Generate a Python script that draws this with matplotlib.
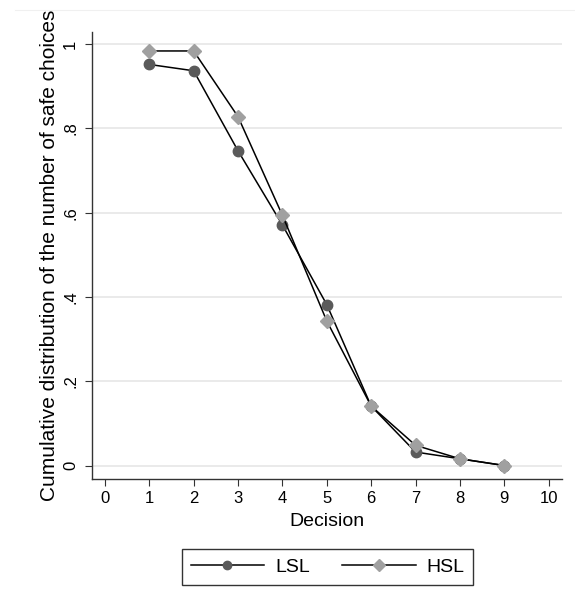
import matplotlib
matplotlib.use("Agg")
import matplotlib.pyplot as plt
from matplotlib.lines import Line2D

decisions = [1, 2, 3, 4, 5, 6, 7, 8, 9]
lsl = [0.952, 0.937, 0.747, 0.571, 0.382, 0.141, 0.032, 0.016, 0.0]
hsl = [0.984, 0.984, 0.828, 0.594, 0.343, 0.141, 0.048, 0.016, 0.0]
xticks = list(range(0, 11))
yticks = [0, 0.2, 0.4, 0.6, 0.8, 1.0]
ytick_labels = ["0", ".2", ".4", ".6", ".8", "1"]

plt.rcParams['font.family'] = ['Liberation Sans', 'DejaVu Sans']

W, H = 575, 611
fig = plt.figure(figsize=(W / 100, H / 100), dpi=100)
left, right, top, bottom = 92, 562, 32, 479
ax = fig.add_axes([left / W, 1 - bottom / H, (right - left) / W, (bottom - top) / H])

ax.plot(decisions, lsl, color='black', lw=1.1, marker='o', markersize=7.5,
        markerfacecolor='#5a5a5a', markeredgecolor='#5a5a5a', zorder=3, label='LSL')
ax.plot(decisions, hsl, color='black', lw=1.1, marker='D', markersize=7.5,
        markerfacecolor='#a0a0a0', markeredgecolor='#a0a0a0', zorder=3, label='HSL')

ax.set_xlim(-0.29, 10.3)
ax.set_ylim(-0.032, 1.029)
ax.set_xticks(xticks)
ax.set_yticks(yticks)
ax.set_yticklabels(ytick_labels, rotation=90, va='center')
ax.tick_params(axis='both', direction='out', length=5, width=0.8, labelsize=12, color='#333333')
ax.tick_params(axis='y', pad=5)
ax.grid(axis='y', color='#e6e6e6', lw=1.2)
ax.set_axisbelow(True)
for s in ['top', 'right']:
    ax.spines[s].set_visible(False)
for s in ['left', 'bottom']:
    ax.spines[s].set_linewidth(1.0)
    ax.spines[s].set_color('#333333')

ax.set_xlabel('Decision', fontsize=14, labelpad=5)
ax.set_ylabel('Cumulative distribution of the number of safe choices', fontsize=15, labelpad=3)

# faint outer plot region line at top
fig.add_artist(Line2D([15 / W, 1.0], [1 - 10 / H, 1 - 10 / H], color='#f0f0f0', lw=0.8))

leg = fig.legend(loc='center', bbox_to_anchor=(327.5 / W, 1 - 567 / H), ncol=2,
                 fontsize=14, frameon=True, fancybox=False, handlelength=3.8,
                 columnspacing=1.65, handletextpad=0.55, borderpad=0.45,
                 markerscale=0.8)
leg.get_frame().set_edgecolor('black')
leg.get_frame().set_linewidth(1.0)

fig.savefig('out.png', dpi=100)
